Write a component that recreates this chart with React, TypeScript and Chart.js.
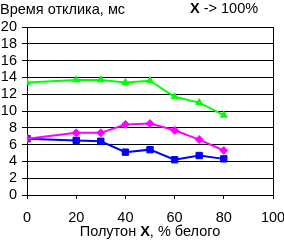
import React, { useEffect, useRef } from "react";
import { Chart, registerables } from "chart.js";

Chart.register(...registerables);

const xValues = [0, 20, 30, 40, 50, 60, 70, 80];
const greenSeries = [13.4, 13.7, 13.7, 13.4, 13.6, 11.7, 11.0, 9.5];
const magentaSeries = [6.7, 7.4, 7.4, 8.4, 8.5, 7.7, 6.6, 5.3];
const blueSeries = [6.7, 6.5, 6.4, 5.1, 5.4, 4.2, 4.7, 4.3];
const yTitle = "Время отклика, мс";
const topRightBold = "X";
const topRightRest = " -> 100%";
const xTitleParts = ["Полутон ", "X", ", % белого"];

const FONT = "Liberation Sans, Arial, sans-serif";
const FS = 14.5;

const textPlugin = {
  id: "texts",
  afterDraw(chart: any) {
    const ctx = chart.ctx;
    const area = chart.chartArea;
    ctx.save();
    ctx.fillStyle = "#000";
    ctx.textBaseline = "middle";
    ctx.textAlign = "left";
    ctx.font = `${FS}px ${FONT}`;
    ctx.fillText(yTitle, 0, 10);
    // top right
    ctx.font = `bold ${FS}px ${FONT}`;
    const bx = 190;
    ctx.fillText(topRightBold, bx, 9);
    const bw = ctx.measureText(topRightBold).width;
    ctx.font = `${FS}px ${FONT}`;
    ctx.fillText(topRightRest, bx + bw, 9);
    // x title
    const fonts = [`${FS}px ${FONT}`, `bold ${FS}px ${FONT}`, `${FS}px ${FONT}`];
    let total = 0;
    const widths = xTitleParts.map((p, i) => {
      ctx.font = fonts[i];
      const w = ctx.measureText(p).width;
      total += w;
      return w;
    });
    let x = (area.left + area.right) / 2 - total / 2;
    xTitleParts.forEach((p, i) => {
      ctx.font = fonts[i];
      ctx.fillText(p, x, 232);
      x += widths[i];
    });
    ctx.restore();
  },
};

function App() {
  const ref = useRef<HTMLCanvasElement>(null);
  useEffect(() => {
    document.body.style.margin = "0";
    const mk = (label: string, data: number[], color: string, style: string, r: number) => ({
      label,
      data: xValues.map((x, i) => ({ x, y: data[i] })),
      borderColor: color,
      backgroundColor: color,
      borderWidth: 2,
      pointStyle: style,
      pointRadius: r,
      pointBorderWidth: 1,
      tension: 0,
    });
    const chart = new Chart(ref.current!, {
      type: "line",
      data: {
        datasets: [
          mk("green", greenSeries, "#00ff00", "triangle", 4),
          mk("magenta", magentaSeries, "#ff00ff", "rectRot", 4),
          mk("blue", blueSeries, "#0000ff", "rect", 4.5),
        ],
      },
      options: {
        animation: false,
        responsive: false,
        maintainAspectRatio: false,
        layout: { padding: { left: 0, top: 27, right: 11, bottom: 0 } },
        plugins: { legend: { display: false }, tooltip: { enabled: false }, title: { display: false } },
        scales: {
          x: {
            type: "linear",
            min: 0,
            max: 100,
            ticks: { stepSize: 20, color: "#000", font: { family: FONT, size: FS }, padding: 10, maxRotation: 0, autoSkip: false },
            grid: {
              drawOnChartArea: true,
              color: (c: any) => (c.tick && c.tick.value === 100 ? "#000" : "rgba(0,0,0,0)"),
              tickColor: "#000",
              tickLength: 4,
              lineWidth: 1,
            },
            border: { display: true, color: "#000", width: 1 },
            afterFit: (s: any) => {
              s.height = 46;
              s.paddingLeft = 0;
              s.paddingRight = 0;
            },
          },
          y: {
            min: 0,
            max: 20,
            ticks: { stepSize: 2, color: "#000", font: { family: FONT, size: FS }, padding: 5, autoSkip: false },
            grid: { color: "#000", tickColor: "#000", tickLength: 5, lineWidth: 1 },
            border: { display: true, color: "#000", width: 1 },
            afterFit: (s: any) => {
              s.width = 27;
              s.paddingTop = 0;
              s.paddingBottom = 0;
            },
          },
        },
      },
      plugins: [textPlugin],
    } as any);
    return () => chart.destroy();
  }, []);
  return <canvas ref={ref} width={284} height={241} style={{ display: "block" }} />;
}

export default App;
